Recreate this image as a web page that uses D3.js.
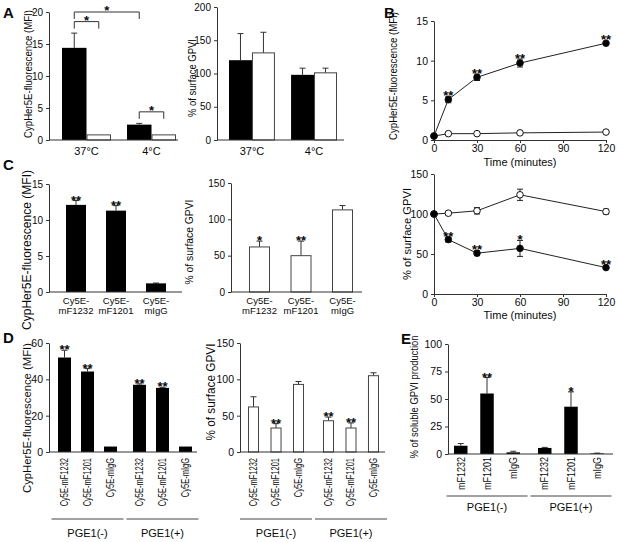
<!DOCTYPE html>
<html><head><meta charset="utf-8">
<script src="https://cdn.jsdelivr.net/npm/d3@7"></script>
<style>
body{margin:0;background:#fff}
svg{display:block}
text{font-family:"Liberation Sans",Arial,Helvetica,sans-serif;fill:#0a0a0a}
</style>
</head><body>
<svg id="chart" width="618" height="542"></svg>
<script>
// ---------------- DATA ----------------
const tempCategories = ["37°C", "4°C"];
const seriesNames = ["antibody", "control"];
const aMfiAntibody = [14.4, 2.4];
const aMfiAntibodySd = [2.3, 0.2];
const aMfiControl = [0.8, 0.8];
const aMfiControlSd = [0, 0];
const aMfiTicks = [0, 5, 10, 15, 20];
const aGpviAntibody = [120, 98];
const aGpviAntibodySd = [40, 10];
const aGpviControl = [131, 101];
const aGpviControlSd = [31, 7];
const aGpviTicks = [0, 50, 100, 150, 200];
// significance brackets for panel A (left): [category, series] pairs and level in MFI units
const aBracketFrom = [["37°C", "antibody"], ["37°C", "antibody"], ["4°C", "antibody"]];
const aBracketTo = [["4°C", "antibody"], ["37°C", "control"], ["4°C", "control"]];
const aBracketLevel = [20, 18.5, 4.4];
const aBracketStars = ["*", "*", "*"];

const timeMinutes = [0, 10, 30, 60, 120];
const timeTicks = [0, 30, 60, 90, 120];
const bMfiAntibody = [0.5, 5.1, 7.9, 9.7, 12.2];
const bMfiAntibodySd = [0.1, 0.4, 0.4, 0.5, 0.2];
const bMfiControl = [0.5, 0.8, 0.8, 0.9, 1.0];
const bMfiControlSd = [0, 0.1, 0.1, 0.1, 0.1];
const bMfiStars = ["", "**", "**", "**", "**"];
const bMfiTicks = [0, 5, 10, 15];
const bGpviAntibody = [100, 68, 51, 57, 33];
const bGpviAntibodySd = [0, 3, 3, 10, 2];
const bGpviControl = [100, 101, 104, 124, 103];
const bGpviControlSd = [0, 2, 4, 7, 3];
const bGpviStars = ["", "**", "**", "*", "**"];
const bGpviTicks = [0, 50, 100, 150];

const probeCategories = ["Cy5E-mF1232", "Cy5E-mF1201", "Cy5E-mIgG"];
const cMfi = [12.1, 11.3, 1.2];
const cMfiSd = [0.6, 0.7, 0.05];
const cMfiStars = ["**", "**", ""];
const cMfiTicks = [0, 5, 10, 15];
const cGpvi = [62, 50, 113];
const cGpviSd = [8, 20, 6];
const cGpviStars = ["*", "**", ""];
const cGpviTicks = [0, 50, 100, 150];

const pgeGroups = ["PGE1(-)", "PGE1(+)"];
const dMfi = [52, 44.3, 3, 37, 35.3, 3];
const dMfiSd = [4, 1.6, 0, 0.5, 0.3, 0];
const dMfiStars = ["**", "**", "", "**", "**", ""];
const dMfiTicks = [0, 20, 40, 60];
const dGpvi = [62, 33, 93, 43, 33, 105];
const dGpviSd = [14, 6, 4, 5, 7, 4];
const dGpviStars = ["", "**", "", "**", "**", ""];
const dGpviTicks = [0, 50, 100, 150];

const antibodyCategories = ["mF1232", "mF1201", "mIgG"];
const eSoluble = [7.5, 55, 1.5, 5.5, 43, 0.5];
const eSolubleSd = [2, 14.5, 1, 0.5, 13.5, 0.3];
const eSolubleStars = ["", "**", "", "", "*", ""];
const eSolubleTicks = [0, 25, 50, 75, 100];

// ---------------- HELPERS ----------------
const svg = d3.select("#chart");
const AX = "#333";
const BLACK = "#000";
const WHITE = "#fff";

function leftAxis(g, y, x, ticks, fs) {
  const a = g.append("g").attr("transform", `translate(${x},0)`)
    .call(d3.axisLeft(y).tickValues(ticks).tickSize(3).tickSizeOuter(0).tickPadding(3));
  a.select(".domain").attr("stroke", AX);
  a.selectAll(".tick line").attr("stroke", AX);
  a.selectAll(".tick text").attr("font-size", fs).attr("font-family", null).attr("fill", "#0a0a0a");
  return a;
}
function hLine(g, x1, x2, yv, color) {
  g.append("line").attr("x1", x1).attr("x2", x2).attr("y1", yv).attr("y2", yv)
    .attr("stroke", color || AX).attr("stroke-width", 1);
}
function yTitle(g, text, cx, cy, fs, len) {
  g.append("text").attr("transform", `translate(${cx},${cy}) rotate(-90)`)
    .attr("text-anchor", "middle").attr("dominant-baseline", "central")
    .attr("font-size", fs).attr("textLength", len).attr("lengthAdjust", "spacingAndGlyphs")
    .text(text);
}
function letter(t, x, y) {
  svg.append("text").attr("x", x).attr("y", y).attr("font-size", 15)
    .attr("font-weight", "bold").text(t);
}
function star(g, cx, topY, s) {
  if (!s) return;
  g.append("text").attr("x", cx).attr("y", topY + 4).attr("text-anchor", "middle")
    .attr("font-size", 13).attr("font-weight", "bold").text(s);
}
function drawBars(g, items, y) {
  items.forEach(d => {
    const top = y(d.v), base = y(0), cx = d.x + d.w / 2;
    if (d.sd > 0) {
      const et = y(d.v + d.sd);
      g.append("line").attr("x1", cx).attr("x2", cx).attr("y1", top).attr("y2", et).attr("stroke", AX);
      g.append("line").attr("x1", cx - 3).attr("x2", cx + 3).attr("y1", et).attr("y2", et).attr("stroke", AX);
    }
    if (d.fill === BLACK) {
      g.append("rect").attr("x", d.x).attr("y", top).attr("width", d.w).attr("height", base - top).attr("fill", BLACK);
    } else {
      g.append("rect").attr("x", d.x + 0.5).attr("y", top).attr("width", d.w - 1).attr("height", base - top)
        .attr("fill", WHITE).attr("stroke", "#444").attr("stroke-width", 1);
    }
    star(g, cx, y(d.v + d.sd), d.star);
  });
}

// ---------------- PANEL A ----------------
letter("A", 3, 18);
{
  const g = svg.append("g");
  const y = d3.scaleLinear().domain([0, 20]).range([140, 12]);
  const x = d3.scaleBand().domain(tempCategories).range([62, 176]).paddingInner(0.246);
  const s = d3.scaleBand().domain(seriesNames).range([0, x.bandwidth()]);
  const items = [];
  tempCategories.forEach((c, i) => {
    items.push({x: x(c) + s("antibody"), w: s.bandwidth(), v: aMfiAntibody[i], sd: aMfiAntibodySd[i], fill: BLACK});
    items.push({x: x(c) + s("control"), w: s.bandwidth(), v: aMfiControl[i], sd: aMfiControlSd[i], fill: WHITE});
  });
  drawBars(g, items, y);
  leftAxis(g, y, 49, aMfiTicks, 10);
  hLine(g, 49, 178, y(0));
  tempCategories.forEach(c => g.append("text").attr("x", x(c) + x.bandwidth() / 2).attr("y", 155)
    .attr("text-anchor", "middle").attr("font-size", 11).text(c));
  yTitle(g, "CypHer5E-fluorescence (MFI)", 28, 74, 10.5, 128);
  aBracketFrom.forEach((f, i) => {
    const x1 = x(f[0]) + s(f[1]) + s.bandwidth() / 2;
    const t = aBracketTo[i];
    const x2 = x(t[0]) + s(t[1]) + s.bandwidth() / 2;
    const ly = y(aBracketLevel[i]);
    g.append("path").attr("d", `M${x1},${ly + 7}V${ly}H${x2}V${ly + 7}`).attr("fill", "none").attr("stroke", AX);
    star(g, (x1 + x2) / 2, ly - 1, aBracketStars[i]);
  });
}
{
  const g = svg.append("g");
  const y = d3.scaleLinear().domain([0, 200]).range([140, 7]);
  const x = d3.scaleBand().domain(tempCategories).range([229, 337]).paddingInner(0.26);
  const s = d3.scaleBand().domain(seriesNames).range([0, x.bandwidth()]);
  const items = [];
  tempCategories.forEach((c, i) => {
    items.push({x: x(c) + s("antibody"), w: s.bandwidth(), v: aGpviAntibody[i], sd: aGpviAntibodySd[i], fill: BLACK});
    items.push({x: x(c) + s("control"), w: s.bandwidth(), v: aGpviControl[i], sd: aGpviControlSd[i], fill: WHITE});
  });
  drawBars(g, items, y);
  leftAxis(g, y, 217, aGpviTicks, 10);
  hLine(g, 217, 344, y(0));
  tempCategories.forEach(c => g.append("text").attr("x", x(c) + x.bandwidth() / 2).attr("y", 155)
    .attr("text-anchor", "middle").attr("font-size", 11).text(c));
  yTitle(g, "% of surface GPVI", 192, 78, 10.5, 78);
}

// ---------------- PANEL B ----------------
letter("B", 384, 18);
function linePanel(g, x, y, series) {
  series.forEach(ser => {
    const pts = timeMinutes.map((t, i) => ({t, v: ser.values[i], sd: ser.sd[i]}));
    g.append("path").datum(pts).attr("fill", "none").attr("stroke", "#222").attr("stroke-width", 1)
      .attr("d", d3.line().x(d => x(d.t)).y(d => y(d.v)));
    pts.forEach(p => {
      if (p.sd > 0) {
        const cx = x(p.t), a = y(p.v + p.sd), b = y(p.v - p.sd);
        g.append("line").attr("x1", cx).attr("x2", cx).attr("y1", a).attr("y2", b).attr("stroke", "#222");
        g.append("line").attr("x1", cx - 3).attr("x2", cx + 3).attr("y1", a).attr("y2", a).attr("stroke", "#222");
        g.append("line").attr("x1", cx - 3).attr("x2", cx + 3).attr("y1", b).attr("y2", b).attr("stroke", "#222");
      }
    });
    pts.forEach(p => {
      g.append("circle").attr("cx", x(p.t)).attr("cy", y(p.v)).attr("r", 3.3)
        .attr("fill", ser.fill).attr("stroke", "#111").attr("stroke-width", 1);
    });
    if (ser.stars) pts.forEach((p, i) => star(g, x(p.t), Math.min(y(p.v + p.sd), y(p.v) - 3), ser.stars[i]));
  });
}
function timeAxis(g, x, yv, labelY, fs) {
  const a = g.append("g").attr("transform", `translate(0,${yv})`)
    .call(d3.axisBottom(x).tickValues(timeTicks).tickSize(3).tickSizeOuter(0).tickPadding(2));
  a.select(".domain").attr("stroke", AX);
  a.selectAll(".tick line").attr("stroke", AX);
  a.selectAll(".tick text").attr("font-size", 10.5).attr("font-family", null).attr("fill", "#0a0a0a");
  g.append("text").attr("x", (x.range()[0] + x.range()[1]) / 2).attr("y", labelY)
    .attr("text-anchor", "middle").attr("font-size", fs).text("Time (minutes)");
}
{
  const g = svg.append("g");
  const x = d3.scaleLinear().domain([0, 120]).range([434, 606]);
  const y = d3.scaleLinear().domain([0, 15]).range([140, 21]);
  leftAxis(g, y, 434, bMfiTicks, 10.5);
  timeAxis(g, x, 140, 166, 11);
  linePanel(g, x, y, [
    {values: bMfiControl, sd: bMfiControlSd, fill: WHITE},
    {values: bMfiAntibody, sd: bMfiAntibodySd, fill: BLACK, stars: bMfiStars}
  ]);
  yTitle(g, "CypHer5E-fluorescence (MFI)", 393, 76, 10.5, 128);
}
{
  const g = svg.append("g");
  const x = d3.scaleLinear().domain([0, 120]).range([434, 606]);
  const y = d3.scaleLinear().domain([0, 150]).range([294, 174]);
  leftAxis(g, y, 434, bGpviTicks, 10.5);
  timeAxis(g, x, 294, 319, 11);
  linePanel(g, x, y, [
    {values: bGpviControl, sd: bGpviControlSd, fill: WHITE},
    {values: bGpviAntibody, sd: bGpviAntibodySd, fill: BLACK, stars: bGpviStars}
  ]);
  yTitle(g, "% of surface GPVI", 407, 234, 11.5, 92);
}

// ---------------- PANEL C ----------------
letter("C", 3, 170);
function twoLineLabels(g, x, cats, y1, fs) {
  cats.forEach(c => {
    const parts = c.split("-");
    const t = g.append("text").attr("text-anchor", "middle").attr("font-size", fs);
    t.append("tspan").attr("x", x(c) + x.bandwidth() / 2).attr("y", y1).text(parts[0] + "-");
    t.append("tspan").attr("x", x(c) + x.bandwidth() / 2).attr("y", y1 + 10).text(parts[1]);
  });
}
{
  const g = svg.append("g");
  const y = d3.scaleLinear().domain([0, 15]).range([292, 184]);
  const x = d3.scaleBand().domain(probeCategories).range([66, 166]).paddingInner(0.5);
  drawBars(g, probeCategories.map((c, i) => ({x: x(c), w: x.bandwidth(), v: cMfi[i], sd: cMfiSd[i], fill: BLACK, star: cMfiStars[i]})), y);
  leftAxis(g, y, 49, cMfiTicks, 10);
  hLine(g, 49, 182, y(0));
  twoLineLabels(g, x, probeCategories, 304, 9.5);
  yTitle(g, "CypHer5E-fluorescence (MFI)", 27, 250, 12, 160);
}
{
  const g = svg.append("g");
  const y = d3.scaleLinear().domain([0, 150]).range([292, 183]);
  const x = d3.scaleBand().domain(probeCategories).range([249, 353]).paddingInner(0.494);
  drawBars(g, probeCategories.map((c, i) => ({x: x(c), w: x.bandwidth(), v: cGpvi[i], sd: cGpviSd[i], fill: WHITE, star: cGpviStars[i]})), y);
  leftAxis(g, y, 231, cGpviTicks, 10);
  hLine(g, 231, 362, y(0));
  twoLineLabels(g, x, probeCategories, 304, 9.5);
  yTitle(g, "% of surface GPVI", 189, 242, 11.5, 85);
}

// ---------------- PANELS D & E ----------------
function groupedPanel(g, opt) {
  const xo = d3.scaleBand().domain(pgeGroups).range(opt.range).paddingInner(opt.groupPad);
  const xi = d3.scaleBand().domain(opt.cats).range([0, xo.bandwidth()]).paddingInner(opt.barPad);
  const items = opt.values.map((v, i) => ({
    x: xo(pgeGroups[Math.floor(i / 3)]) + xi(opt.cats[i % 3]), w: xi.bandwidth(),
    v, sd: opt.sd[i], fill: opt.fill, star: opt.stars[i]
  }));
  drawBars(g, items, opt.y);
  leftAxis(g, opt.y, opt.axisX, opt.ticks, 10.5);
  hLine(g, opt.axisX, opt.axisEnd, opt.y(0));
  items.forEach((d, i) => {
    g.append("text").attr("transform", `translate(${d.x + d.w / 2},${opt.labelTop}) rotate(-90) scale(${opt.labelSquash},1)`)
      .attr("text-anchor", "end").attr("dominant-baseline", "central")
      .attr("font-size", opt.labelFs).text(opt.cats[i % 3]);
  });
  const half = xo.step() * xo.paddingInner() / 2 - 1.5;
  pgeGroups.forEach(gr => {
    hLine(g, xo(gr) - half, xo(gr) + xo.bandwidth() + half, opt.bracketY, "#444");
    g.append("text").attr("x", xo(gr) + xo.bandwidth() / 2).attr("y", opt.groupLabelY)
      .attr("text-anchor", "middle").attr("font-size", 11).text(gr);
  });
}
letter("D", 3, 343);
{
  const g = svg.append("g");
  groupedPanel(g, {
    y: d3.scaleLinear().domain([0, 60]).range([452, 343]), ticks: dMfiTicks,
    range: [58, 192], groupPad: 0.213, barPad: 0.435, cats: probeCategories,
    values: dMfi, sd: dMfiSd, stars: dMfiStars, fill: BLACK,
    axisX: 49, axisEnd: 197, labelTop: 458, labelFs: 10, labelSquash: 0.75, bracketY: 519, groupLabelY: 537
  });
  yTitle(g, "CypHer5E-fluorescence (MFI)", 27, 418, 11.5, 150);
}
{
  const g = svg.append("g");
  groupedPanel(g, {
    y: d3.scaleLinear().domain([0, 150]).range([452, 343]), ticks: dGpviTicks,
    range: [248, 379], groupPad: 0.253, barPad: 0.51, cats: probeCategories,
    values: dGpvi, sd: dGpviSd, stars: dGpviStars, fill: WHITE,
    axisX: 240, axisEnd: 385, labelTop: 458, labelFs: 10, labelSquash: 0.75, bracketY: 519, groupLabelY: 537
  });
  yTitle(g, "% of surface GPVI", 211, 392, 12, 97);
}
letter("E", 401, 344);
{
  const g = svg.append("g");
  groupedPanel(g, {
    y: d3.scaleLinear().domain([0, 100]).range([454, 344]), ticks: eSolubleTicks,
    range: [454, 604], groupPad: 0.214, barPad: 0.486, cats: antibodyCategories,
    values: eSoluble, sd: eSolubleSd, stars: eSolubleStars, fill: BLACK,
    axisX: 448, axisEnd: 613, labelTop: 457, labelFs: 10.5, labelSquash: 0.86, bracketY: 496, groupLabelY: 511
  });
  yTitle(g, "% of soluble GPVI production", 414, 397, 10.5, 123);
}
</script>
</body></html>
